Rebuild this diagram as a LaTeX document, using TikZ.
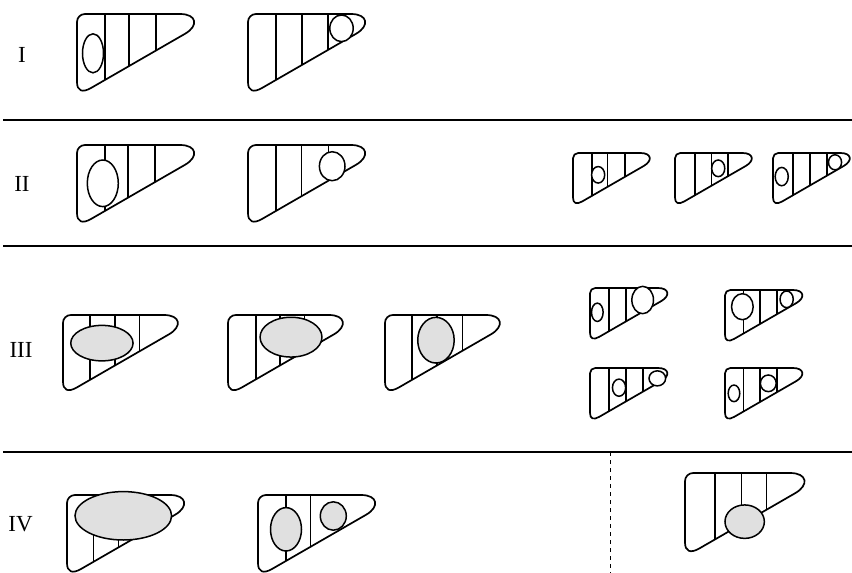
\documentclass[tikz,border=0pt]{standalone}
\usepackage{fontspec}
\setmainfont{Liberation Serif}
\tikzset{
  outline/.style={line width=1.7pt, line join=round},
  divider/.style={line width=1.55pt},
  blobline/.style={line width=1.5pt},
  rowlab/.style={font=\fontsize{23}{23}\selectfont, inner sep=0pt},
  sepline/.style={line width=1.5pt},
}
\newcommand{\liver}[5]{%
  \begin{scope}[shift={(#1,#2)},scale=#3]
    \draw[outline] (0,8) .. controls (0,3.5) and (3.5,0) .. (8,0) -- (103,0)
      .. controls (120,0) and (121.9,11.8) .. (108,19.8) -- (14,74)
      .. controls (5.3,79) and (0,77) .. (0,68) -- cycle;
    \foreach \dd in {#4} {\draw[divider] (\dd,0) -- (\dd,{82.07-0.5766*\dd});}
    #5
  \end{scope}}
\newcommand{\blob}[5]{\draw[blobline,fill=#5] (#1,#2) ellipse [x radius=#3, y radius=#4];}
\colorlet{stip}{black!12}
\begin{document}
\begin{tikzpicture}[x=1pt,y=-1pt]
\useasboundingbox (0,0) rectangle (852,573);
% row labels
\node[rowlab] (lI) at (22,55) {I};
\node[rowlab] (lII) at (22,184) {II};
\node[rowlab] (lIII) at (21,350) {III};
\node[rowlab] (lIV) at (20.5,524) {IV};
% separators
\draw[sepline] (3,120) -- (852,120);
\draw[sepline] (3,246) -- (852,246);
\draw[sepline] (3,452) -- (852,452);
\draw[line width=1pt, dash pattern=on 4pt off 4pt] (610,452) -- (610,573);
% Row I
\liver{77}{14}{1}{28,52,79}{\blob{16}{39.3}{10.5}{19.5}{white}}
\liver{248}{14}{1}{28,54,80}{\blob{93.5}{14.3}{11.7}{13.3}{white}}
% Row II
\liver{77}{145}{1}{28,51,78}{\blob{25.8}{38.3}{15.5}{23.3}{white}}
\liver{248}{145}{1}{28,53.7,80.3}{\blob{84.2}{21.2}{12.8}{14.5}{white}}
\liver{573}{153}{0.655}{29,53,79}{\blob{38.4}{33.3}{10}{12.6}{white}}
\liver{675}{153}{0.655}{30.5,56,81}{\blob{66}{23.4}{10}{12.7}{white}}
\liver{773}{153}{0.655}{30.5,56.5,82.5}{\blob{13.3}{36}{10}{14}{white}\blob{94.7}{14.2}{10}{11.5}{white}}
% Row III
\liver{63}{315}{0.98}{27.7,53.3,78}{\blob{39.7}{28.7}{31.8}{18.1}{stip}}
\liver{228}{315}{0.98}{28.7,53.3,78}{\blob{64.3}{22.6}{31.6}{20.3}{stip}}
\liver{385}{315}{0.98}{27.7,53.3,79}{\blob{52}{25.7}{18.6}{23.3}{stip}}
\liver{590}{288}{0.66}{28.8,54.5,79}{\blob{11.1}{36.8}{8.8}{13.9}{white}\blob{79.8}{18.2}{16.4}{20.7}{white}}
\liver{725}{290}{0.66}{27.8,53,79}{\blob{26.3}{25.3}{16.4}{19.7}{white}\blob{93.4}{14.1}{10}{12.6}{white}}
\liver{590}{368}{0.66}{28.8,54.5,80}{\blob{44}{29.8}{10}{13}{white}\blob{102}{15.7}{12.6}{11.4}{white}}
\liver{725}{368}{0.66}{27.8,53,79}{\blob{13.6}{38.4}{8.8}{12.6}{white}\blob{65.6}{23.2}{12}{12.6}{white}}
% Row IV
\liver{67}{495}{1}{26.3,51.3,79}{\blob{56.3}{20.8}{48.3}{24.2}{stip}}
\liver{258}{495}{1}{28,52.7}{\blob{28}{34.3}{15.5}{21.7}{stip}\blob{75.3}{21}{13}{14.2}{stip}}
\liver{685}{473}{1.02}{29.4,55.6,80}{\blob{58.5}{47.7}{19.3}{16.4}{stip}}
\end{tikzpicture}
\end{document}
